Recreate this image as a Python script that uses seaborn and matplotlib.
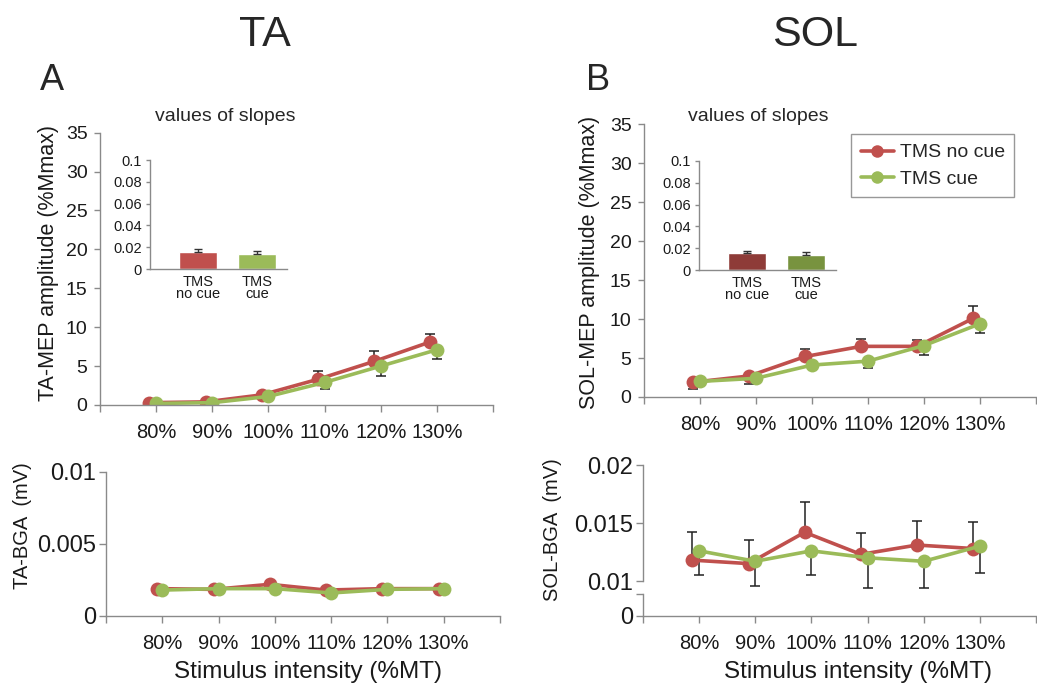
import pandas as pd
import seaborn as sns
import matplotlib.pyplot as plt
import numpy as np
from matplotlib.lines import Line2D

# -----------------------------
# Datos
# -----------------------------
intensity = ['80%', '90%', '100%', '110%', '120%', '130%']
conditions = ['TMS no cue', 'TMS cue']

# TA - MEP amplitude (%Mmax)
ta_mep_nocue = [0.3, 0.4, 1.3, 3.3, 5.6, 8.1]
ta_mep_nocue_lo = [0, 0, 0, 0, 0, 0]
ta_mep_nocue_hi = [0.1, 0.1, 0.3, 1.1, 1.4, 1.0]
ta_mep_cue = [0.2, 0.3, 1.1, 2.9, 5.0, 7.1]
ta_mep_cue_lo = [0.1, 0.1, 0.3, 0.9, 1.3, 1.2]
ta_mep_cue_hi = [0, 0, 0, 0, 0, 0]

# SOL - MEP amplitude (%Mmax)
sol_mep_nocue = [1.9, 2.7, 5.2, 6.5, 6.5, 10.1]
sol_mep_nocue_lo = [0.9, 1.0, 0, 0, 0, 0]
sol_mep_nocue_hi = [0, 0, 1.0, 1.0, 0.8, 1.6]
sol_mep_cue = [2.0, 2.4, 4.1, 4.6, 6.6, 9.4]
sol_mep_cue_lo = [0.3, 0.3, 0.3, 0.9, 1.2, 1.2]
sol_mep_cue_hi = [0, 0, 0, 0, 0, 0]

# TA - BGA (mV)
ta_bga_nocue = [0.0019, 0.00185, 0.0022, 0.0018, 0.0019, 0.0019]
ta_bga_nocue_lo = [0, 0, 0, 0, 0, 0]
ta_bga_nocue_hi = [0.0001, 0.0001, 0.0001, 0.0001, 0.0001, 0.0001]
ta_bga_cue = [0.0018, 0.0019, 0.0019, 0.0016, 0.00185, 0.0019]
ta_bga_cue_lo = [0.0001, 0.0001, 0.0002, 0.0001, 0.0001, 0.0001]
ta_bga_cue_hi = [0, 0, 0, 0, 0, 0]

# SOL - BGA (mV)
sol_bga_nocue = [0.0118, 0.0115, 0.0142, 0.0123, 0.0131, 0.0128]
sol_bga_nocue_lo = [0, 0, 0, 0, 0, 0]
sol_bga_nocue_hi = [0.0024, 0.0020, 0.0026, 0.0018, 0.0021, 0.0023]
sol_bga_cue = [0.0126, 0.0117, 0.0126, 0.0120, 0.0117, 0.0130]
sol_bga_cue_lo = [0.0021, 0.0021, 0.0021, 0.0026, 0.0023, 0.0023]
sol_bga_cue_hi = [0, 0, 0, 0, 0, 0]

# Pendientes (inset)
slope_labels = ['TMS\nno cue', 'TMS\ncue']
ta_slopes = [0.0156, 0.0140]
ta_slopes_err = [0.0024, 0.0025]
sol_slopes = [0.0156, 0.0140]
sol_slopes_err = [0.0018, 0.0025]

# -----------------------------
# Estilo
# -----------------------------
sns.set_theme(style='white')
plt.rcParams['font.family'] = ['Liberation Sans', 'DejaVu Sans']

RED = '#C0504D'
GREEN = '#9BBB59'
RED_DARK = '#8E3B38'
GREEN_DARK = '#78933F'
AXIS_GRAY = '#8a8a8a'
TXT = '#1a1a1a'
palette = {'TMS no cue': RED, 'TMS cue': GREEN}

W, H = 1037, 684
fig = plt.figure(figsize=(W / 100, H / 100), dpi=100)


def add_px_axes(left, top, right, bottom):
    return fig.add_axes([left / W, 1 - bottom / H, (right - left) / W, (bottom - top) / H])


def style_axes(ax):
    ax.grid(False)
    ax.set_facecolor('none')
    for s in ['top', 'right']:
        ax.spines[s].set_visible(False)
    for s in ['left', 'bottom']:
        ax.spines[s].set_color(AXIS_GRAY)
        ax.spines[s].set_linewidth(1)
    ax.tick_params(color=AXIS_GRAY, direction='out', width=1, labelcolor=TXT,
                   left=True, bottom=True)
    ax.set_xlabel('')
    ax.set_ylabel('')


def draw_lines(ax, nocue, nocue_lo, nocue_hi, cue, cue_lo, cue_hi, offset=0.12):
    pos = np.arange(1, len(intensity) + 1)
    df = pd.DataFrame({
        'pos': np.concatenate([pos - offset, pos]),
        'value': nocue + cue,
        'cond': [conditions[0]] * len(pos) + [conditions[1]] * len(pos),
    })
    for vals, lo, hi, sh in [(nocue, nocue_lo, nocue_hi, offset), (cue, cue_lo, cue_hi, 0)]:
        eb = ax.errorbar(pos - sh, vals, yerr=[lo, hi], fmt='none', ecolor='#222222',
                         elinewidth=1.1, capsize=3.5, capthick=1.1, zorder=1)
        for art in eb.get_children():
            art.set_clip_on(False)
    sns.lineplot(data=df, x='pos', y='value', hue='cond', palette=palette,
                 hue_order=conditions, marker='o', markersize=10, mew=0,
                 linewidth=2.6, legend=False, sort=False, ax=ax, zorder=2)
    ax.set_xlim(0, 7)


def set_cat_xaxis(ax):
    ax.set_xticks(range(8))
    ax.set_xticklabels([''] + intensity + [''])
    ax.tick_params(axis='x', length=5, pad=8, labelsize=14.5)


def draw_inset(ax, slopes, err, colors):
    sns.barplot(x=slope_labels, y=slopes, hue=slope_labels, palette=colors,
                width=0.64, saturation=1, legend=False, ax=ax)
    ax.errorbar([0, 1], slopes, yerr=[[0, 0], err], fmt='none', ecolor='#333333',
                elinewidth=1, capsize=3, capthick=1)
    style_axes(ax)
    ax.set_xlim(-0.8, 1.5)
    ax.set_ylim(0, 0.1)
    ax.set_yticks([0, 0.02, 0.04, 0.06, 0.08, 0.1])
    ax.set_yticklabels(['0', '0.02', '0.04', '0.06', '0.08', '0.1'])
    ax.tick_params(axis='y', length=3, pad=3, labelsize=10.5)
    ax.tick_params(axis='x', length=0, pad=4, labelsize=10.5)
    for lab in ax.get_xticklabels():
        lab.set_linespacing(0.85)


# -----------------------------
# Paneles superiores (MEP)
# -----------------------------
ax_ta = add_px_axes(100, 132.7, 493, 405)
draw_lines(ax_ta, ta_mep_nocue, ta_mep_nocue_lo, ta_mep_nocue_hi,
           ta_mep_cue, ta_mep_cue_lo, ta_mep_cue_hi)
style_axes(ax_ta)
ax_ta.set_ylim(0, 35)
ax_ta.set_yticks(range(0, 36, 5))
ax_ta.tick_params(axis='y', length=4, pad=5, labelsize=14)
set_cat_xaxis(ax_ta)

ax_sol = add_px_axes(644, 124.3, 1036, 397)
draw_lines(ax_sol, sol_mep_nocue, sol_mep_nocue_lo, sol_mep_nocue_hi,
           sol_mep_cue, sol_mep_cue_lo, sol_mep_cue_hi)
style_axes(ax_sol)
ax_sol.set_ylim(0, 35)
ax_sol.set_yticks(range(0, 36, 5))
ax_sol.tick_params(axis='y', length=4, pad=5, labelsize=14)
set_cat_xaxis(ax_sol)

# insets
ax_in_ta = add_px_axes(150, 160, 287, 269)
draw_inset(ax_in_ta, ta_slopes, ta_slopes_err, [RED, GREEN])
ax_in_sol = add_px_axes(699, 161, 836, 270)
draw_inset(ax_in_sol, sol_slopes, sol_slopes_err, [RED_DARK, GREEN_DARK])

# -----------------------------
# Paneles inferiores (BGA)
# -----------------------------
ax_ta_bga = add_px_axes(106, 472, 500, 616)
draw_lines(ax_ta_bga, ta_bga_nocue, ta_bga_nocue_lo, ta_bga_nocue_hi,
           ta_bga_cue, ta_bga_cue_lo, ta_bga_cue_hi, offset=0.09)
style_axes(ax_ta_bga)
ax_ta_bga.set_ylim(0, 0.01)
ax_ta_bga.set_yticks([0, 0.005, 0.01])
ax_ta_bga.set_yticklabels(['0', '0.005', '0.01'])
ax_ta_bga.tick_params(axis='y', length=5, pad=2, labelsize=17)
set_cat_xaxis(ax_ta_bga)

# eje roto: parte superior + parte inferior
ax_sol_bga = add_px_axes(643, 465, 1036, 581)
draw_lines(ax_sol_bga, sol_bga_nocue, sol_bga_nocue_lo, sol_bga_nocue_hi,
           sol_bga_cue, sol_bga_cue_lo, sol_bga_cue_hi)
style_axes(ax_sol_bga)
ax_sol_bga.spines['bottom'].set_visible(False)
ax_sol_bga.set_ylim(0.01, 0.02)
ax_sol_bga.set_yticks([0.01, 0.015, 0.02])
ax_sol_bga.set_yticklabels(['0.01', '0.015', '0.02'])
ax_sol_bga.tick_params(axis='y', length=5, pad=2, labelsize=17)
ax_sol_bga.set_xticks([])

ax_sol_low = add_px_axes(643, 594, 1036, 616)
style_axes(ax_sol_low)
ax_sol_low.set_xlim(0, 7)
ax_sol_low.set_ylim(0, 1)
ax_sol_low.set_yticks([0, 1])
ax_sol_low.set_yticklabels(['0', ''])
ax_sol_low.tick_params(axis='y', length=5, pad=2, labelsize=17)
set_cat_xaxis(ax_sol_low)

# -----------------------------
# Textos
# -----------------------------
fig.text(265 / W, 1 - 46 / H, 'TA', fontsize=31, ha='center', va='baseline')
fig.text(815 / W, 1 - 46 / H, 'SOL', fontsize=31, ha='center', va='baseline')
fig.text(40 / W, 1 - 90 / H, 'A', fontsize=26, ha='left', va='baseline')
fig.text(586 / W, 1 - 90 / H, 'B', fontsize=26, ha='left', va='baseline')
fig.text(155 / W, 1 - 121 / H, 'values of slopes', fontsize=14, ha='left', va='baseline')
fig.text(688 / W, 1 - 121 / H, 'values of slopes', fontsize=14, ha='left', va='baseline')

fig.text(49 / W, 1 - 263 / H, 'TA-MEP amplitude (%Mmax)', fontsize=15.5,
         rotation=90, ha='center', va='center', color=TXT)
fig.text(589 / W, 1 - 262 / H, 'SOL-MEP amplitude (%Mmax)', fontsize=15.5,
         rotation=90, ha='center', va='center', color=TXT)
fig.text(23 / W, 1 - 526 / H, 'TA-BGA  (mV)', fontsize=14.5,
         rotation=90, ha='center', va='center', color=TXT)
fig.text(553 / W, 1 - 530 / H, 'SOL-BGA  (mV)', fontsize=14.5,
         rotation=90, ha='center', va='center', color=TXT)
fig.text(308 / W, 1 - 672 / H, 'Stimulus intensity (%MT)', fontsize=17.5,
         ha='center', va='center', color=TXT)
fig.text(858 / W, 1 - 672 / H, 'Stimulus intensity (%MT)', fontsize=17.5,
         ha='center', va='center', color=TXT)

# leyenda
handles = [Line2D([0], [0], color=palette[c], marker='o', markersize=9, mew=0, lw=2.6)
           for c in conditions]
leg = fig.legend(handles, conditions, loc='upper left',
                 bbox_to_anchor=(851 / W, 1 - 134 / H), frameon=True, fancybox=False,
                 edgecolor='#7f7f7f', fontsize=14, handlelength=1.7, handletextpad=0.3,
                 borderpad=0.5, labelspacing=0.45, borderaxespad=0)
leg.get_frame().set_linewidth(1)

fig.savefig('out.png', dpi=100)
